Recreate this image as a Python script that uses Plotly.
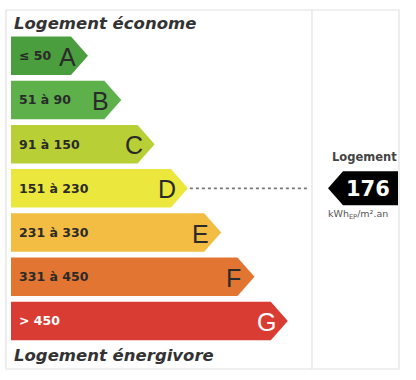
import plotly.graph_objects as go

# ---- data ----
classes = ["A", "B", "C", "D", "E", "F", "G"]
ranges = ["≤ 50", "51 à 90", "91 à 150", "151 à 230", "231 à 330", "331 à 450", "> 450"]
upper_bounds = [50, 90, 150, 230, 330, 450, None]
colors = ["#4a9e3e", "#5db04a", "#b8cf36", "#ece73c", "#f2bd42", "#e27532", "#d93c32"]
text_colors = ["#2a2a2a", "#2a2a2a", "#2a2a2a", "#2a2a2a", "#2a2a2a", "#2a2a2a", "#ffffff"]
title_top = "Logement économe"
title_bottom = "Logement énergivore"
value = 176
value_label = "Logement"
unit_label = "kWh<sub>EP</sub>/m².an"

# ---- geometry (pixel-like data space) ----
W, H = 416, 380
left = 11
top0 = 36.5
step_y = 44.2
bar_h = 38.5
tip0 = 88
step_x = 33.3
tip_len = 17

# class of the value
idx = next(i for i, ub in enumerate(upper_bounds) if ub is None or value <= ub)

fig = go.Figure()

for i, (c, col) in enumerate(zip(classes, colors)):
    y0 = top0 + i * step_y
    y1 = y0 + bar_h
    ym = (y0 + y1) / 2
    tip = tip0 + i * step_x
    body = tip - tip_len
    fig.add_trace(go.Scatter(
        x=[left, body, tip, body, left, left],
        y=[y0, y0, ym, y1, y1, y0],
        fill="toself", fillcolor=col, mode="lines",
        line=dict(width=0, color=col), hoverinfo="skip", showlegend=False))
    fig.add_annotation(x=left + 6, y=ym, text="<b>" + ranges[i] + "</b>",
                       xanchor="left", yanchor="middle", showarrow=False,
                       font=dict(family="DejaVu Sans", size=12.5, color=text_colors[i]))
    fig.add_annotation(x=tip - 21, y=ym + 1, text=c, xanchor="center", yanchor="middle",
                       showarrow=False,
                       font=dict(family="Liberation Sans", size=25, color=text_colors[i]))

# frame
fig.add_shape(type="rect", x0=6, y0=10, x1=399, y1=369,
              line=dict(color="#e2e2e2", width=1.2), fillcolor="rgba(0,0,0,0)", layer="below")
fig.add_shape(type="line", x0=312, y0=10, x1=312, y1=369,
              line=dict(color="#e2e2e2", width=1.2), layer="below")

# titles
fig.add_annotation(x=12, y=23, text="<b><i>" + title_top + "</i></b>", xanchor="left",
                   yanchor="middle", showarrow=False,
                   font=dict(family="DejaVu Sans", size=16.5, color="#333333"))
fig.add_annotation(x=12, y=355, text="<b><i>" + title_bottom + "</i></b>", xanchor="left",
                   yanchor="middle", showarrow=False,
                   font=dict(family="DejaVu Sans", size=16.5, color="#333333"))

# dotted connector line from the value's class
ym_v = top0 + idx * step_y + bar_h / 2
tip_v = tip0 + idx * step_x
fig.add_trace(go.Scatter(x=[tip_v + 2, 309], y=[ym_v, ym_v], mode="lines",
                         line=dict(color="#777777", width=1.8, dash="dot"),
                         hoverinfo="skip", showlegend=False))

# value arrow
ax_tip = 328
ax_body = 343
ax_right = 398
ah = 17
fig.add_trace(go.Scatter(
    x=[ax_tip, ax_body, ax_right, ax_right, ax_body, ax_tip],
    y=[ym_v, ym_v - ah, ym_v - ah, ym_v + ah, ym_v + ah, ym_v],
    fill="toself", fillcolor="#000000", mode="lines", line=dict(width=0, color="#000"),
    hoverinfo="skip", showlegend=False))
fig.add_annotation(x=368, y=ym_v + 1, text="<b>" + str(value) + "</b>", showarrow=False,
                   xanchor="center", yanchor="middle",
                   font=dict(family="DejaVu Sans", size=21, color="#ffffff"))
fig.add_annotation(x=364, y=157, text="<b>" + value_label + "</b>", showarrow=False,
                   xanchor="center", yanchor="middle",
                   font=dict(family="DejaVu Sans", size=11.5, color="#444444"))
fig.add_annotation(x=326, y=214, text=unit_label, showarrow=False,
                   xanchor="left", yanchor="middle",
                   font=dict(family="DejaVu Sans", size=9.5, color="#555555"))

fig.update_layout(
    width=W, height=H, margin=dict(l=0, r=0, t=0, b=0),
    paper_bgcolor="white", plot_bgcolor="white",
    xaxis=dict(range=[0, W], visible=False, fixedrange=True),
    yaxis=dict(range=[H, 0], visible=False, fixedrange=True),
    showlegend=False,
)

fig.write_html("out.html")
